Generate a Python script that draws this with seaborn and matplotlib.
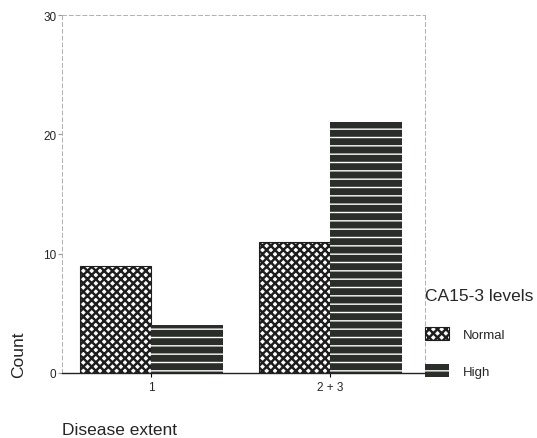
import matplotlib
matplotlib.use("Agg")
import matplotlib.pyplot as plt
import matplotlib.patches as mpatches
import seaborn as sns
import pandas as pd

categories = ["1", "2 + 3"]
levels = ["Normal", "High"]
normal_counts = [9, 11]
high_counts = [4, 21]
y_ticks = [0, 10, 20, 30]

df = pd.DataFrame({
    "Disease extent": categories * 2,
    "level": [levels[0]] * len(categories) + [levels[1]] * len(categories),
    "Count": normal_counts + high_counts,
})

sns.set_style("white")
plt.rcParams["font.family"] = ["Liberation Sans", "DejaVu Sans"]
plt.rcParams["hatch.linewidth"] = 1.15

fig = plt.figure(figsize=(5.37, 4.39), dpi=100)
ax = fig.add_axes([62 / 537, 1 - 374 / 439, 363 / 537, 358 / 439])

sns.barplot(data=df, x="Disease extent", y="Count", hue="level",
            hue_order=levels, order=categories,
            palette={"Normal": "white", "High": "#2a2d2a"},
            width=0.8, ax=ax, legend=False, saturation=1)

styles = {
    "Normal": dict(facecolor="white", edgecolor="#1e1e1e", hatch="xxxx", linewidth=0.8),
    "High": dict(facecolor="#2a2d2a", edgecolor="white", hatch="--", linewidth=0),
}
hatch_lw = {"Normal": 1.75, "High": 1.0}


def style_patch(p, lev):
    st = styles[lev]
    p.set_facecolor(st["facecolor"])
    p.set_edgecolor(st["edgecolor"])
    p.set_hatch(st["hatch"])
    p.set_linewidth(st["linewidth"])
    if hasattr(p, "set_hatch_linewidth"):
        p.set_hatch_linewidth(hatch_lw[lev])
    else:
        p._hatch_linewidth = hatch_lw[lev]


for cont, lev in zip(ax.containers, levels):
    for bar in cont:
        style_patch(bar, lev)

ax.set_ylim(0, 30)
ax.set_xlim(-0.5, 1.53)
ax.set_yticks(y_ticks)
ax.tick_params(axis="y", labelsize=8.5, length=3, color="#999999", left=True, pad=1)
ax.tick_params(axis="x", labelsize=8.5, length=3, color="black", bottom=True, pad=3)

for side in ["left", "top", "right"]:
    ax.spines[side].set_color("#b0b0b0")
    ax.spines[side].set_linewidth(0.7)
    ax.spines[side].set_linestyle((0, (4, 3)))
ax.spines["bottom"].set_color("#222222")
ax.spines["bottom"].set_linewidth(1.0)

ax.set_ylabel("Count", fontsize=12.5)
ax.yaxis.set_label_coords(-0.12, 0.053)
ax.yaxis.label.set_va("center")
ax.yaxis.label.set_ha("center")
ax.set_xlabel("Disease extent", fontsize=12.5, ha="left")
ax.xaxis.set_label_coords(0.0, -0.158)
ax.xaxis.label.set_va("center")

handles = []
for lev in levels:
    h = mpatches.Patch(label=lev)
    style_patch(h, lev)
    handles.append(h)
leg = fig.legend(handles=handles, title="CA15-3 levels", loc="upper left",
                 bbox_to_anchor=(425 / 537, 1 - 289 / 439), frameon=False,
                 fontsize=9.5, title_fontsize=12.5, alignment="left",
                 handlelength=1.85, handleheight=1.15, handletextpad=1.0,
                 labelspacing=1.8, borderpad=0, borderaxespad=0)
leg._legend_box.sep = 17
for h, lev in zip(leg.legend_handles, levels):
    style_patch(h, lev)

fig.savefig("out.png", dpi=100)
